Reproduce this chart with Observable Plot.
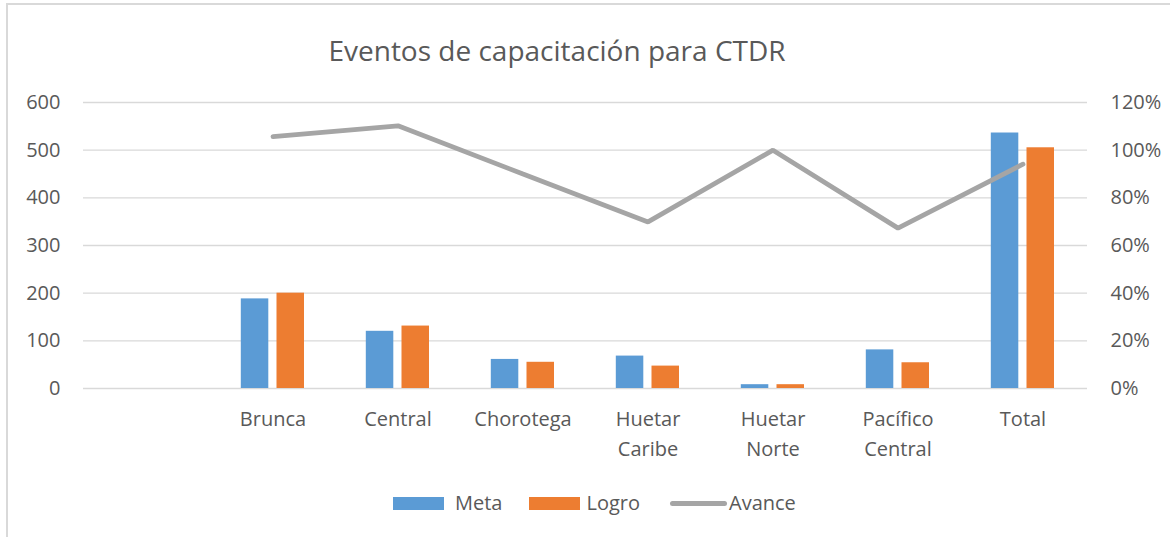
<!DOCTYPE html>
<html>
<head>
<meta charset="utf-8">
<script src="https://cdn.jsdelivr.net/npm/d3@7"></script>
<script src="https://cdn.jsdelivr.net/npm/@observablehq/plot@0.6"></script>
<style>
  html, body { margin: 0; padding: 0; background: #fff; }
  #wrap { position: relative; width: 1170px; height: 537px; overflow: hidden; background: #fff;
          font-family: "Open Sans", sans-serif; color: #595959; }
  #frame { position: absolute; left: 6px; top: 3px; width: 1300px; height: 700px;
           border: 2px solid #D9D9D9; box-sizing: border-box; }
  #chart { position: absolute; left: 0; top: 0; }
  #title { position: absolute; left: 0; width: 1114px; top: 36px; text-align: center;
           font-size: 28px; line-height: 28px; white-space: nowrap; }
  #legend { position: absolute; left: 393px; top: 492px; height: 22px; display: flex; align-items: center;
            font-size: 20px; line-height: 22px; white-space: nowrap; }
  .sw { display: inline-block; width: 51px; height: 13px; }
  .ln { display: inline-block; width: 57px; height: 5px; border-radius: 3px; background: #A5A5A5; }
</style>
</head>
<body>
<div id="wrap">
  <div id="frame"></div>
  <div id="chart"></div>
  <div id="title">Eventos de capacitación para CTDR</div>
  <div id="legend"></div>
</div>
<script>
// ---- data ----
const categories = ["Brunca", "Central", "Chorotega", "Huetar Caribe", "Huetar Norte", "Pacífico Central", "Total"];
const meta   = [188, 120, 61, 68, 8, 81, 536];
const logro  = [200, 131, 55, 47, 8, 54, 505];
const avance = [105.7, 110.2, 90.0, 69.9, 100.0, 67.3, 94.1]; // percent
const leftTicks = [0, 100, 200, 300, 400, 500, 600];
const rightMaxPct = 120;
const leftMax = 600;
const seriesNames = ["Meta", "Logro", "Avance"];
const colors = { Meta: "#5B9BD5", Logro: "#ED7D31", Avance: "#A5A5A5" };

// ---- derived tables ----
const xDomain = [" ", ...categories];
const pctScale = leftMax / rightMaxPct;
const metaRows = categories.map((c, i) => ({ cat: c, value: meta[i] }));
const logroRows = categories.map((c, i) => ({ cat: c, value: logro[i] }));
const avanceRows = categories.map((c, i) => ({ cat: c, pct: avance[i] }));

const plot = Plot.plot({
  width: 1170,
  height: 537,
  marginLeft: 83,
  marginRight: 83,
  marginTop: 102,
  marginBottom: 149,
  style: { fontFamily: "Open Sans, sans-serif", fontSize: "20px", color: "#595959", background: "transparent", overflow: "visible" },
  x: { domain: xDomain, padding: 0, label: null },
  y: { domain: [0, leftMax], label: null },
  marks: [
    Plot.gridY(leftTicks, { stroke: "#D9D9D9", strokeOpacity: 1, strokeWidth: 1.4 }),
    Plot.barY(metaRows, { x: "cat", y: "value", fill: colors.Meta, insetLeft: 30.8, insetRight: 66.7 }),
    Plot.barY(logroRows, { x: "cat", y: "value", fill: colors.Logro, insetLeft: 66.5, insetRight: 31 }),
    Plot.line(avanceRows, { x: "cat", y: d => d.pct * pctScale, stroke: colors.Avance, strokeWidth: 4.8,
                            strokeLinecap: "round", strokeLinejoin: "miter" }),
    Plot.axisY(leftTicks, { anchor: "left", tickSize: 0, tickPadding: 23, fill: "#595959", fontSize: 20, label: null }),
    Plot.axisY(leftTicks, { anchor: "right", tickSize: 0, tickPadding: 23, fill: "#595959", fontSize: 20, label: null,
                            tickFormat: d => Math.round(d / pctScale) + "%" }),
    Plot.axisX({ anchor: "bottom", tickSize: 0, tickPadding: 16, fill: "#595959", fontSize: 20, label: null,
                 lineHeight: 1.5, tickFormat: d => d.replace(" ", "\n") })
  ]
});
document.getElementById("chart").appendChild(plot);

// ---- legend ----
const legend = document.getElementById("legend");
const gaps = { Meta: [0, 11, 27], Logro: [0, 6, 30], Avance: [0, 2, 0] };
seriesNames.forEach(name => {
  const sym = document.createElement("span");
  sym.className = name === "Avance" ? "ln" : "sw";
  if (name !== "Avance") sym.style.background = colors[name];
  sym.style.marginRight = gaps[name][1] + "px";
  const txt = document.createElement("span");
  txt.textContent = name;
  txt.style.marginRight = gaps[name][2] + "px";
  legend.appendChild(sym);
  legend.appendChild(txt);
});
</script>
</body>
</html>
